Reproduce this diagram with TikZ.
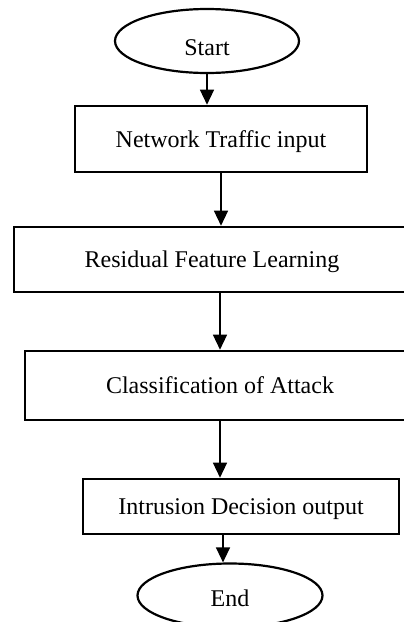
\documentclass[tikz,border=0pt]{standalone}
\usepackage{fontspec}
\setmainfont{Liberation Serif}
\usetikzlibrary{shapes.geometric,arrows.meta}
\begin{document}
\begin{tikzpicture}[x=1pt,y=-1pt,
  boxstyle/.style={draw,line width=2.6pt,rectangle,inner sep=0pt,
    text height=16pt,text depth=0pt,font=\fontsize{24}{28}\selectfont},
  termstyle/.style={draw,line width=2.2pt,ellipse,inner sep=0pt,
    text height=16pt,text depth=0pt,font=\fontsize{24}{28}\selectfont,
    minimum width=184pt,minimum height=64pt},
  arr/.style={line width=1.3pt,-{Triangle[length=15pt,width=14pt]}}]
\clip (0,0) rectangle (404,622);
\node[termstyle] (start) at (207,41) {\raisebox{-6pt}{Start}};
\node[boxstyle,minimum width=292pt,minimum height=66pt] (b1) at (221,139) {Network Traffic input};
\node[boxstyle,minimum width=396pt,minimum height=65pt] (b2) at (212,259.5) {Residual Feature Learning};
\node[boxstyle,minimum width=390pt,minimum height=69pt] (b3) at (220,385.5) {Classification of Attack};
\node[boxstyle,minimum width=316pt,minimum height=55pt] (b4) at (241,506.5) {Intrusion Decision output};
\node[termstyle,minimum width=185pt] (stop) at (230,595.5) {\raisebox{-3pt}{End}};
\coordinate (e4) at ([xshift=-7pt]stop.north);
\draw[arr] (start.south) -- (start.south |- b1.north);
\draw[arr] (b1.south) -- (b1.south |- b2.north);
\draw[arr] (b3.north |- b2.south) -- (b3.north);
\draw[arr] (b3.south) -- (b3.south |- b4.north);
\draw[arr] (e4 |- b4.south) -- (e4);
\end{tikzpicture}
\end{document}
